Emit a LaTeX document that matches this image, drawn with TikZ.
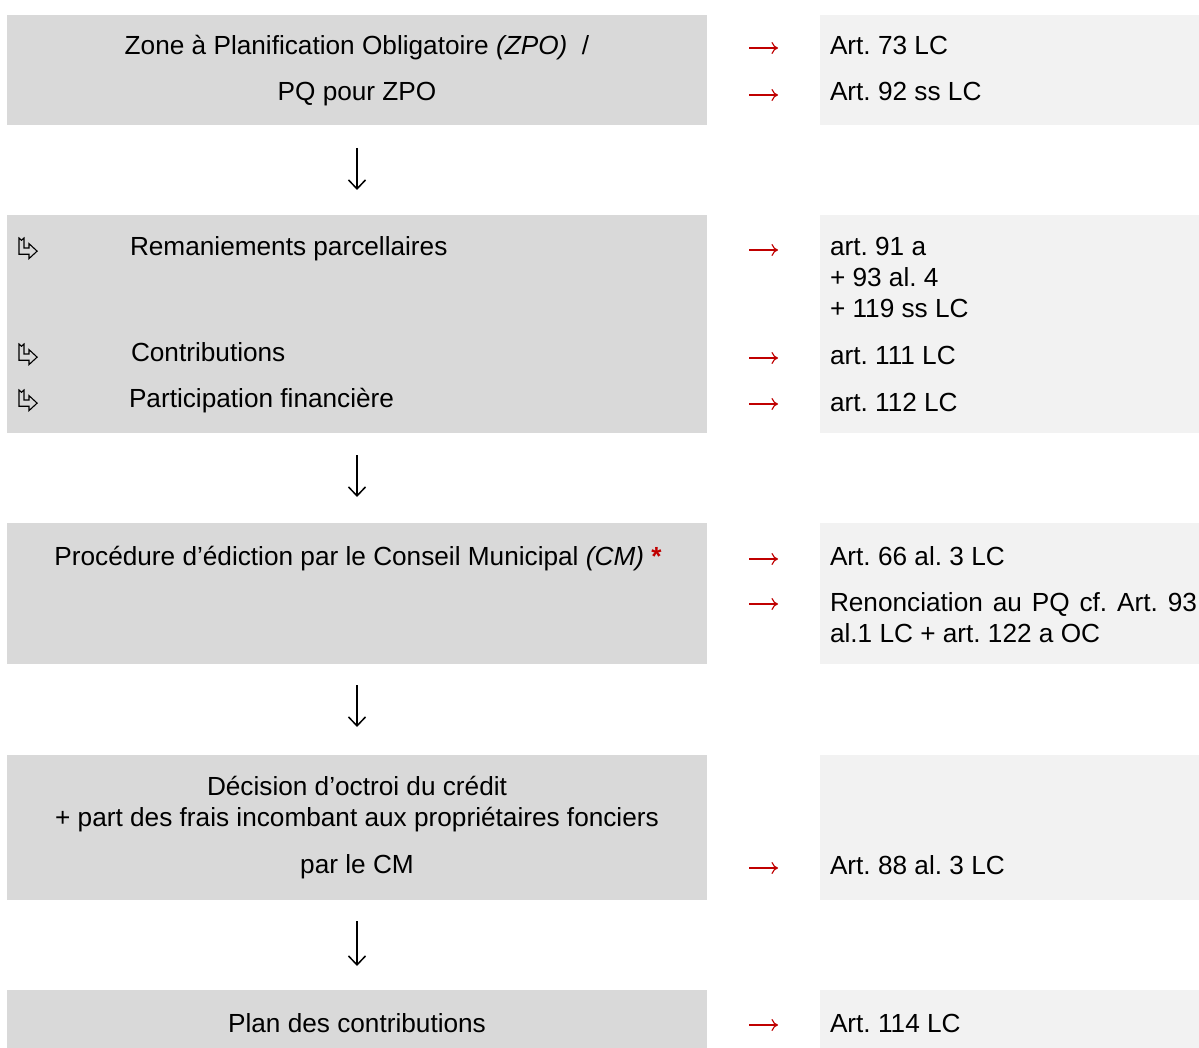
\documentclass[tikz,border=0pt]{standalone}
\usepackage{fontspec}
\setmainfont{Liberation Sans}
\usetikzlibrary{arrows.meta}
\definecolor{leftgray}{HTML}{D9D9D9}
\definecolor{rightgray}{HTML}{F2F2F2}
\definecolor{artred}{HTML}{C00000}
\frenchspacing
\tikzset{
  leftbox/.style={fill=leftgray, draw=none, anchor=north west, minimum width=700pt, inner sep=0pt, outer sep=0pt},
  rightbox/.style={fill=rightgray, draw=none, anchor=north west, minimum width=379pt, inner sep=0pt, outer sep=0pt},
  txt/.style={inner sep=0pt, outer sep=0pt, font=\fontsize{26.2}{31}\selectfont},
  reftxt/.style={txt, anchor=base west},
  redarrow/.style={draw=artred, line width=1.15pt, -{To[length=6.5pt,width=12pt,line width=1.15pt]}},
  flowarrow/.style={line width=1.5pt, -{Straight Barb[length=9pt,width=17pt,line width=1.5pt]}},
  handglyph/.style={draw=black, line width=1.1pt, fill=none, line join=miter}
}
\newcommand{\handsym}[2]{%
  \draw[handglyph, shift={(#1,#2)}, scale=1.25] (0,0) -- (2,1.8) -- (4,0) -- (4,8) -- (8,8) -- (8,4.5) -- (14.5,10.5) -- (8,16.5) -- (8,13) -- (0,13) -- cycle;}
\newcommand{\redarr}[2]{\draw[redarrow] (#1-14,#2) -- (#1+15,#2);}
\begin{document}
\begin{tikzpicture}[x=1pt,y=-1pt]
\useasboundingbox (0,0) rectangle (1199,1048);
\fill[white] (0,0) rectangle (1199,1048);

% ---------- boxes ----------
\node[leftbox, minimum height=110pt] (b1) at (7,15) {};
\node[rightbox, minimum height=110pt] (r1) at (820,15) {};
\node[leftbox, minimum height=218pt] (b2) at (7,215) {};
\node[rightbox, minimum height=218pt] (r2) at (820,215) {};
\node[leftbox, minimum height=141pt] (b3) at (7,523) {};
\node[rightbox, minimum height=141pt] (r3) at (820,523) {};
\node[leftbox, minimum height=145pt] (b4) at (7,755) {};
\node[rightbox, minimum height=145pt] (r4) at (820,755) {};
\node[leftbox, minimum height=58pt] (b5) at (7,990) {};
\node[rightbox, minimum height=58pt] (r5) at (820,990) {};

% ---------- box 1 ----------
\node[txt, anchor=base] (t1a) at (357,55) {Zone à Planification Obligatoire \textit{(ZPO)}\ \ /};
\node[txt, anchor=base] (t1b) at (357,101) {PQ pour ZPO};
\redarr{763}{48}
\redarr{763}{95}
\node[reftxt] (s1a) at (830,55) {Art. 73 LC};
\node[reftxt] (s1b) at (830,101) {Art. 92 ss LC};

% ---------- box 2 ----------
\handsym{19}{238}
\handsym{19}{344}
\handsym{19}{390}
\node[reftxt] (t2a) at (130,256) {Remaniements parcellaires};
\node[reftxt] (t2b) at (131,362) {Contributions};
\node[reftxt] (t2c) at (129,407) {Participation financière};
\redarr{763}{250}
\redarr{763}{358}
\redarr{763}{404}
\node[reftxt] (s2a) at (830,256) {art. 91 a};
\node[reftxt] (s2b) at (830,287) {+ 93 al. 4};
\node[reftxt] (s2c) at (830,318) {+ 119 ss LC};
\node[reftxt] (s2d) at (830,364) {art. 111 LC};
\node[reftxt] (s2e) at (830,411) {art. 112 LC};

% ---------- box 3 ----------
\node[txt, anchor=base] (t3a) at (358,565) {Procédure d’édiction par le Conseil Municipal \textit{(CM)} \textcolor{artred}{\textbf{*}}};
\redarr{763}{559}
\redarr{763}{604}
\node[reftxt] (s3a) at (830,565) {Art. 66 al. 3 LC};
\node[reftxt] (s3b) at (830,611) {\makebox[367pt][s]{Renonciation au PQ cf. Art. 93}};
\node[reftxt] (s3c) at (830,642) {al.1 LC + art. 122 a OC};

% ---------- box 4 ----------
\node[txt, anchor=base] (t4a) at (357,795) {Décision d’octroi du crédit};
\node[txt, anchor=base] (t4b) at (357,826) {+ part des frais incombant aux propriétaires fonciers};
\node[txt, anchor=base] (t4c) at (357,873) {par le CM};
\redarr{763}{868}
\node[reftxt] (s4a) at (830,874) {Art. 88 al. 3 LC};

% ---------- box 5 ----------
\node[txt, anchor=base] (t5a) at (357,1032) {Plan des contributions};
\redarr{763}{1025}
\node[reftxt] (s5a) at (830,1032) {Art. 114 LC};

% ---------- flow arrows ----------
\draw[flowarrow] ([yshift=-23pt]b1.south) -- ([yshift=25pt]b2.north);
\draw[flowarrow] ([yshift=-22pt]b2.south) -- ([yshift=26pt]b3.north);
\draw[flowarrow] ([yshift=-21pt]b3.south) -- ([yshift=28pt]b4.north);
\draw[flowarrow] ([yshift=-21pt]b4.south) -- ([yshift=24pt]b5.north);
\end{tikzpicture}
\end{document}
